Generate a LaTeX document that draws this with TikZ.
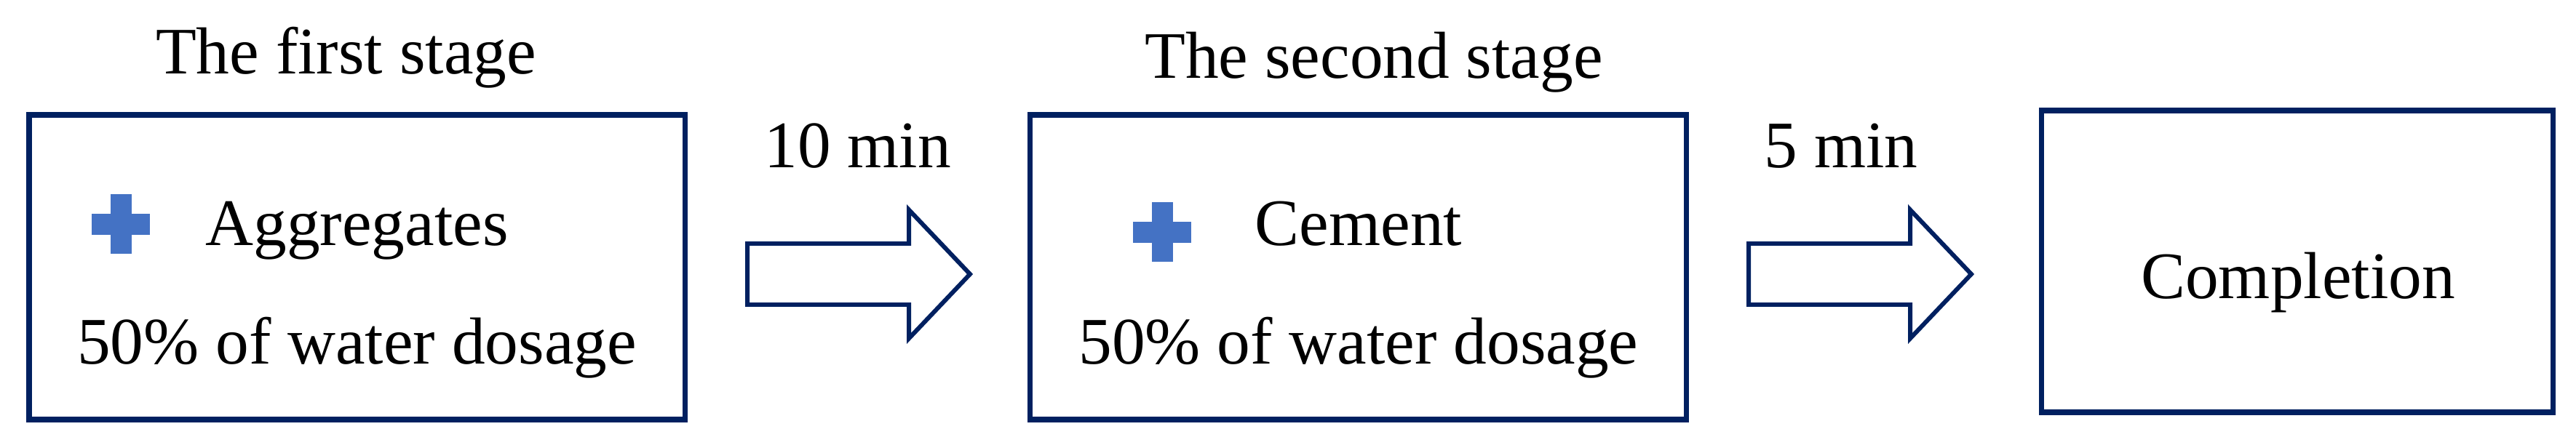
\documentclass[tikz,border=0pt]{standalone}
\usepackage{fontspec}
\setmainfont{Liberation Serif}

\definecolor{boxnavy}{RGB}{0,32,96}
\definecolor{plusblue}{RGB}{68,114,196}

\tikzset{
    plusmark/.pic={
        \fill[plusblue] (-0.145,-0.41) rectangle (0.145,0.41);
        \fill[plusblue] (-0.40,-0.145) rectangle (0.40,0.145);
    }
}

\begin{document}
\begin{tikzpicture}[
    font=\fontsize{26}{31}\selectfont,
    stagebox/.style={draw=boxnavy, line width=2pt, minimum height=4.19cm, inner sep=0pt},
    blockarrow/.style={draw=boxnavy, line width=1.7pt, line join=miter},
    txt/.style={anchor=base, inner sep=0pt}
]

    % Keep the page at the reference proportions
    \useasboundingbox (0,0) rectangle (35.4,6);

    % The three stage boxes
    \node[stagebox, minimum width=9.01cm] (first) at (4.905,2.325) {};
    \node[stagebox, minimum width=9.02cm] (second) at (18.66,2.325) {};
    \node[stagebox, minimum width=7.03cm, minimum height=4.15cm] (done) at (31.565,2.405) {};

    % Tails of the hollow arrows between the boxes
    \coordinate (arrowA) at (10.27,2.23);
    \coordinate (arrowB) at (24.03,2.23);

    % Hollow arrows, drawn from their tails
    \foreach \a in {arrowA,arrowB} {
        \draw[blockarrow] (\a) ++(0,0.42) -- ++(2.22,0) -- ++(0,0.465)
            -- ++(0.84,-0.885) -- ++(-0.84,-0.885) -- ++(0,0.465)
            -- ++(-2.22,0) -- cycle;
    }

    % Titles above the first two boxes
    \node[txt] (titleA) at (4.755,4.98) {The first stage};
    \node[txt] (titleB) at (18.88,4.92) {The second stage};

    % Times on the arrows
    \node[txt] (timeA) at (11.785,3.69) {10 min};
    \node[txt] (timeB) at (25.30,3.69) {5 min};

    % Contents of the first box
    \pic (plusA) at (1.66,2.92) {plusmark};
    \node[txt] (aggr) at (4.905,2.63) {Aggregates};
    \node[txt] (waterA) at (4.905,1.00) {50\% of water dosage};

    % Contents of the second box
    \pic (plusB) at (15.97,2.81) {plusmark};
    \node[txt] (cement) at (18.67,2.63) {Cement};
    \node[txt] (waterB) at (18.67,1.00) {50\% of water dosage};

    % Last box
    \node[txt] (compl) at (31.58,1.90) {Completion};

\end{tikzpicture}
\end{document}
